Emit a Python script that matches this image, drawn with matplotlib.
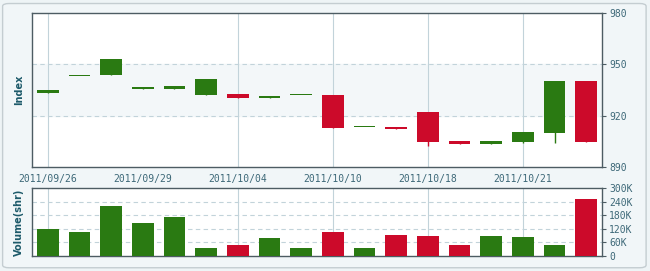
import matplotlib
matplotlib.use("Agg")
import matplotlib.pyplot as plt
from matplotlib.patches import FancyBboxPatch
import numpy as np

# daily index prices (18 sessions)
opens = [933.2, 943.0, 944.0, 935.8, 935.8, 932.1, 932.4, 930.5, 932.0,
         932.1, 913.1, 913.6, 922.1, 905.1, 903.7, 904.8, 910.0, 940.3]
closes = [935.0, 943.4, 953.0, 936.1, 937.3, 941.4, 930.2, 930.8, 932.3,
          913.0, 913.4, 912.1, 904.8, 903.7, 905.1, 910.5, 940.3, 904.8]
lows = [933.2, 943.0, 944.0, 935.8, 935.8, 932.1, 930.2, 930.5, 932.0,
        913.0, 913.1, 912.1, 902.5, 903.7, 903.7, 903.8, 903.8, 904.8]
highs = [935.0, 943.4, 953.0, 936.1, 937.3, 941.4, 932.4, 930.8, 932.3,
         932.1, 913.4, 913.6, 922.1, 905.1, 905.1, 910.5, 940.3, 940.3]
volumes = [119, 104, 220, 146, 172, 35, 48, 79, 35,
           106, 35, 93, 88, 48, 88, 84, 48, 251]  # thousands of shares

date_idx = [0, 3, 6, 9, 12, 15]
date_labels = ["2011/09/26", "2011/09/29", "2011/10/04",
               "2011/10/10", "2011/10/18", "2011/10/21"]
price_ticks = [890, 920, 950, 980]
vol_ticks = [0, 60, 120, 180, 240, 300]
vol_labels = ["0", "60K", "120K", "180K", "240K", "300K"]

GREEN = "#2a7a12"
RED = "#cc0a2a"
FRAME = "#4d5c63"
TXT = "#3d6878"
LBL = "#1d5a6a"
GRID = "#c2d3da"

fig = plt.figure(figsize=(6.5, 2.71), dpi=100, facecolor="#eef4f6")
fig.patches.append(FancyBboxPatch((0.004, 0.012), 0.99, 0.975, boxstyle="round,pad=0,rounding_size=0.01",
                                  transform=fig.transFigure, facecolor="#f1f6f8",
                                  edgecolor="#c4cdd1", lw=1, zorder=-5))

ax = fig.add_axes([0.0492, 0.384, 0.877, 0.568])
axv = fig.add_axes([0.0492, 0.0554, 0.877, 0.251])

x = np.arange(len(opens))
o = np.array(opens)
c = np.array(closes)
up = c >= o
cols = [GREEN if u else RED for u in up]

# price panel
ax.axhspan(920, 950, color="#f3f7f9", zorder=0)
ax.vlines(x, lows, highs, color=cols, lw=1, zorder=2)
body_h = np.maximum(np.abs(c - o), 0.75)
ax.bar(x, body_h, 0.68, bottom=np.minimum(o, c), color=cols, zorder=3)
ax.set_xlim(-0.5, len(opens) - 0.5)
ax.set_ylim(890, 980)
ax.set_yticks(price_ticks)
ax.yaxis.tick_right()
for yv in [920, 950]:
    ax.axhline(yv, color=GRID, lw=0.8, ls=(0, (4, 3)), zorder=1)
ax.set_xticks(date_idx)
ax.set_xticklabels(date_labels)
ax.set_ylabel("Index", color=LBL, fontsize=7, fontweight="bold", labelpad=6)

# volume panel
axv.bar(x, volumes, 0.68, color=cols, zorder=3)
axv.set_xlim(-0.5, len(opens) - 0.5)
axv.set_ylim(0, 300)
axv.set_yticks(vol_ticks)
axv.set_yticklabels(vol_labels)
axv.yaxis.tick_right()
for yv in vol_ticks[1:-1]:
    axv.axhline(yv, color=GRID, lw=0.8, ls=(0, (4, 3)), zorder=1)
axv.set_xticks([])
axv.set_ylabel("Volume(shr)", color=LBL, fontsize=7, fontweight="bold", labelpad=6)

for a in (ax, axv):
    a.set_facecolor("white")
    for i in date_idx:
        if i != 3:
            a.axvline(i, color=GRID, lw=0.8, zorder=1)
    for s in a.spines.values():
        s.set_color(FRAME)
        s.set_linewidth(1)
    a.tick_params(axis="y", colors=FRAME, length=3, width=0.8, pad=2,
                  labelsize=7, labelcolor=TXT)
    for t in a.get_yticklabels():
        t.set_family("DejaVu Sans Mono")
ax.tick_params(axis="x", length=0, pad=5, labelsize=7, labelcolor=TXT)
for t in ax.get_xticklabels():
    t.set_family("DejaVu Sans Mono")

fig.savefig("out.png", dpi=100, facecolor=fig.get_facecolor())
